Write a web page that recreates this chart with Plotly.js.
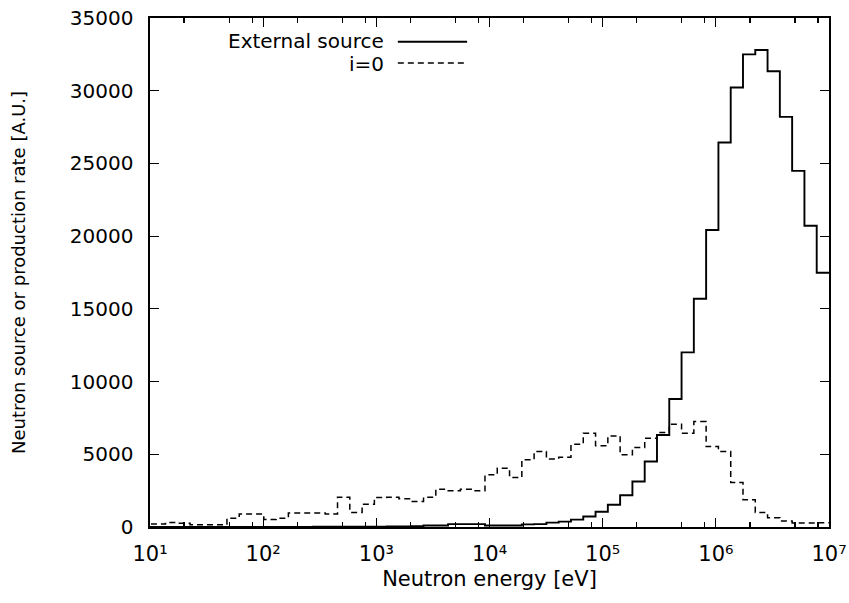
<!DOCTYPE html>
<html>
<head>
<meta charset="utf-8">
<script src="https://cdn.plot.ly/plotly-3.0.1.min.js"></script>
<style>
  html, body { margin: 0; padding: 0; background: #ffffff; }
  #chart { width: 849px; height: 603px; }
</style>
</head>
<body>
<div id="chart"></div>
<script>
// Energy bin edges in eV (lethargy bins of width 0.25, ascending)
const binEdges = [
  8.315, 10.677, 13.710, 17.604, 22.603, 29.023, 37.267, 47.851, 61.442, 78.893,
  101.30, 130.07, 167.02, 214.45, 275.37, 353.58, 454.00, 582.95, 748.52, 961.12,
  1234.1, 1584.6, 2034.7, 2612.6, 3354.6, 4307.4, 5530.8, 7101.7, 9118.8, 11709,
  15034, 19305, 24788, 31828, 40868, 52475, 67379, 86517, 111090, 142640,
  183160, 235180, 301970, 387740, 497870, 639280, 820850, 1054000, 1353400, 1737700,
  2231300, 2865000, 3678800, 4723700, 6065300, 7788000, 10000000
];

// External source per bin (ascending energy)
const externalSource = [
  5, 5, 5, 5, 5, 5, 5, 5, 10, 10,
  10, 10, 10, 10, 15, 15, 15, 20, 20, 25,
  30, 40, 60, 100, 100, 200, 200, 200, 100, 100,
  100, 180, 200, 300, 370, 510, 720, 1050, 1525, 2180,
  3126, 4500, 6330, 8800, 12010, 15700, 20420, 26440, 30220, 32500,
  32800, 31340, 28200, 24490, 20710, 17480
];

// i=0 production rate per bin (ascending energy)
const generation0 = [
  200, 200, 310, 260, 150, 150, 150, 610, 900, 900,
  520, 600, 955, 955, 955, 890, 2050, 1000, 1570, 2030,
  2050, 1940, 1750, 2050, 2600, 2490, 2600, 2490, 3590, 4045,
  3400, 4620, 5190, 4680, 4800, 5690, 6450, 5580, 6265, 4960,
  5460, 6100, 6490, 7070, 6450, 7250, 5530, 5190, 3060, 1870,
  1000, 640, 420, 270, 270, 300
];

const seriesNames = ['External source', 'i=0'];

const xTickVals = [1e1, 1e2, 1e3, 1e4, 1e5, 1e6, 1e7];
const xTickText = ['10\u00B9', '10\u00B2', '10\u00B3', '10\u2074', '10\u2075', '10\u2076', '10\u2077'];
const xMinorTickVals = [20, 50, 80, 200, 500, 800, 2e3, 5e3, 8e3, 2e4, 5e4, 8e4,
                        2e5, 5e5, 8e5, 2e6, 5e6, 8e6];

function stepY(vals) { return vals.concat([vals[vals.length - 1]]); }

const FONT = 'DejaVu Sans, Liberation Sans, Arial, sans-serif';

const traces = [
  {
    x: binEdges, y: stepY(externalSource), name: seriesNames[0],
    type: 'scatter', mode: 'lines',
    line: { shape: 'hv', color: '#000000', width: 1.9 },
    showlegend: false, hoverinfo: 'skip'
  },
  {
    x: binEdges, y: stepY(generation0), name: seriesNames[1],
    type: 'scatter', mode: 'lines',
    line: { shape: 'hv', color: '#000000', width: 1.5, dash: '6px,4px' },
    showlegend: false, hoverinfo: 'skip'
  }
];

const layout = {
  width: 849, height: 603,
  margin: { l: 150, r: 20, t: 18, b: 76 },
  paper_bgcolor: '#ffffff', plot_bgcolor: '#ffffff',
  font: { family: FONT, size: 20, color: '#000000' },
  showlegend: false,
  xaxis: {
    type: 'log', range: [1, 7],
    tickmode: 'array', tickvals: xTickVals, ticktext: xTickText,
    ticks: 'inside', ticklen: 9, tickwidth: 1.2, tickcolor: '#000000',
    mirror: 'ticks', showline: true, linecolor: '#000000', linewidth: 1.6,
    showgrid: false, zeroline: false,
    tickfont: { family: FONT, size: 21, color: '#000000' },
    ticklabelstandoff: 7,
    minor: { tickmode: 'array', tickvals: xMinorTickVals, ticks: 'inside', ticklen: 5,
             tickwidth: 1.2, tickcolor: '#000000', showgrid: false },
    title: { text: 'Neutron energy [eV]', font: { family: FONT, size: 21, color: '#000000' }, standoff: 6 }
  },
  yaxis: {
    range: [0, 35000], dtick: 5000, tick0: 0,
    tickformat: 'd', exponentformat: 'none',
    ticks: 'inside', ticklen: 9, tickwidth: 1.2, tickcolor: '#000000',
    mirror: 'ticks', showline: true, linecolor: '#000000', linewidth: 1.6,
    showgrid: false, zeroline: false,
    tickfont: { family: FONT, size: 20, color: '#000000' },
    ticklabelstandoff: 11,
    title: { text: 'Neutron source or production rate [A.U.]', font: { family: FONT, size: 18, color: '#000000' }, standoff: 39 }
  },
  annotations: [
    { xref: 'paper', yref: 'paper', x: 0.346, y: 0.9550, xanchor: 'right', yanchor: 'middle',
      text: seriesNames[0], showarrow: false, borderpad: 0, height: 19, valign: 'middle',
      font: { family: FONT, size: 20, color: '#000000' } },
    { xref: 'paper', yref: 'paper', x: 0.346, y: 0.9100, xanchor: 'right', yanchor: 'middle',
      text: seriesNames[1], showarrow: false, borderpad: 0, height: 19, valign: 'middle',
      font: { family: FONT, size: 20, color: '#000000' } }
  ],
  shapes: [
    { type: 'line', xref: 'paper', yref: 'paper', x0: 0.365, x1: 0.467, y0: 0.9534, y1: 0.9534,
      line: { color: '#000000', width: 1.9 } },
    { type: 'line', xref: 'paper', yref: 'paper', x0: 0.365, x1: 0.467, y0: 0.9116, y1: 0.9116,
      line: { color: '#000000', width: 1.5, dash: '6px,4px' } }
  ]
};

Plotly.newPlot('chart', traces, layout, { staticPlot: true, displayModeBar: false });
</script>
</body>
</html>
